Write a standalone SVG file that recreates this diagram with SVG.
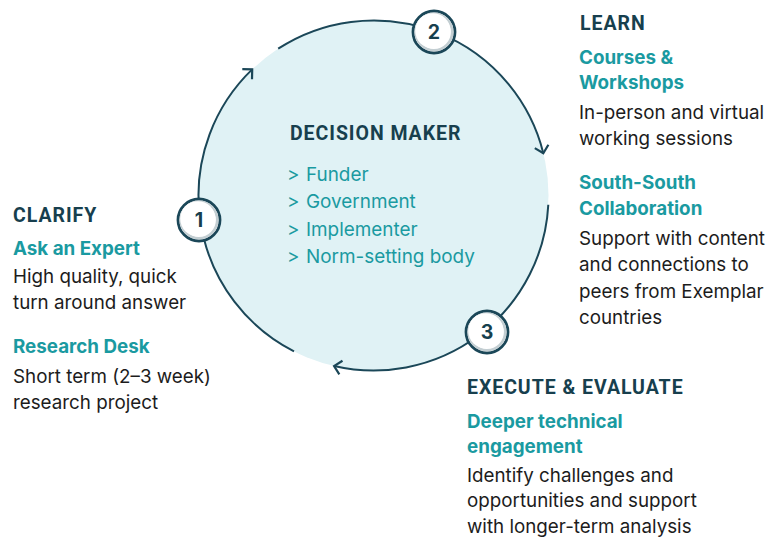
<svg xmlns="http://www.w3.org/2000/svg" width="773" height="539" viewBox="0 0 773 539">
  <defs>
    <style>
      .h { font-family: Roboto, "Liberation Sans", sans-serif; font-weight: 700; font-size: 19.5px; letter-spacing: 0.95px; fill: #173f4e; }
      .s { font-family: Inter, "Liberation Sans", sans-serif; font-weight: 700; font-size: 18.8px; fill: #1a9aa1; }
      .b { font-family: Inter, "Liberation Sans", sans-serif; font-weight: 400; font-size: 18.8px; fill: #1c1c1c; }
      .li { font-family: Inter, "Liberation Sans", sans-serif; font-weight: 400; font-size: 18.9px; fill: #1a9aa1; }
      .num { font-family: Inter, "Liberation Sans", sans-serif; font-weight: 700; font-size: 19.5px; fill: #173f4e; text-anchor: middle; }
      .arc { fill: none; stroke: #1b4758; stroke-width: 2; }
    </style>
    <marker id="chev" markerUnits="userSpaceOnUse" orient="auto" refX="0" refY="0" markerWidth="20" markerHeight="20" viewBox="-10 -10 20 20" overflow="visible">
      <path d="M-7,-7 L0,0 L-7,7" fill="none" stroke="#1b4758" stroke-width="2.2"/>
    </marker>
    <g id="badge">
      <circle r="21" fill="#ffffff" stroke="#1b4758" stroke-width="2.8"/>
      <circle r="18.2" fill="none" stroke="#c3ced2" stroke-width="2.6"/>
      <circle cx="-1.2" cy="-1.2" r="17.6" fill="#ffffff"/>
    </g>
  </defs>

  <rect width="773" height="539" fill="#ffffff"/>

  <g id="decision-maker">
    <circle cx="373.5" cy="195.5" r="175" fill="#e0f2f5"/>
    <text class="h" x="290" y="140">DECISION MAKER</text>
    <text class="li" x="287" y="181">&gt;</text><text class="li" x="306" y="181">Funder</text>
    <text class="li" x="287" y="208">&gt;</text><text class="li" x="306" y="208">Government</text>
    <text class="li" x="287" y="236">&gt;</text><text class="li" x="306" y="236">Implementer</text>
    <text class="li" x="287" y="263">&gt;</text><text class="li" x="306" y="263">Norm-setting body</text>
  </g>

  <g id="connectors">
    <path class="arc" d="M294,351.4 A175,175 0 0 1 252.2,69.4" marker-end="url(#chev)"/>
    <path class="arc" d="M278.2,48.7 A175,175 0 0 1 543.3,153.2" marker-end="url(#chev)"/>
    <path class="arc" d="M548.3,204.7 A175,175 0 0 1 334.1,366" marker-end="url(#chev)"/>
  </g>

  <g id="step-1">
    <use href="#badge" x="199" y="220"/>
    <text class="num" x="199" y="227">1</text>
  </g>
  <g id="step-2">
    <use href="#badge" x="434" y="32"/>
    <text class="num" x="434" y="39">2</text>
  </g>
  <g id="step-3">
    <use href="#badge" x="487" y="332"/>
    <text class="num" x="487" y="339">3</text>
  </g>

  <g id="clarify">
    <text class="h" x="13" y="222">CLARIFY</text>
    <text class="s" x="13" y="255">Ask an Expert</text>
    <text class="b" x="13" y="283">High quality, quick</text>
    <text class="b" x="13" y="309">turn around answer</text>
    <text class="s" x="13" y="353">Research Desk</text>
    <text class="b" x="13" y="383">Short term (2–3 week)</text>
    <text class="b" x="13" y="409">research project</text>
  </g>

  <g id="learn">
    <text class="h" x="580" y="30">LEARN</text>
    <text class="s" x="579" y="64">Courses &amp;</text>
    <text class="s" x="579" y="89">Workshops</text>
    <text class="b" x="579" y="119">In-person and virtual</text>
    <text class="b" x="579" y="145">working sessions</text>
    <text class="s" x="579" y="189">South-South</text>
    <text class="s" x="579" y="215">Collaboration</text>
    <text class="b" x="579" y="245">Support with content</text>
    <text class="b" x="579" y="271">and connections to</text>
    <text class="b" x="579" y="298">peers from Exemplar</text>
    <text class="b" x="579" y="324">countries</text>
  </g>

  <g id="execute-evaluate">
    <text class="h" x="467" y="394">EXECUTE &amp; EVALUATE</text>
    <text class="s" x="467" y="428">Deeper technical</text>
    <text class="s" x="467" y="453">engagement</text>
    <text class="b" x="467" y="482">Identify challenges and</text>
    <text class="b" x="467" y="507">opportunities and support</text>
    <text class="b" x="467" y="533">with longer-term analysis</text>
  </g>
</svg>
